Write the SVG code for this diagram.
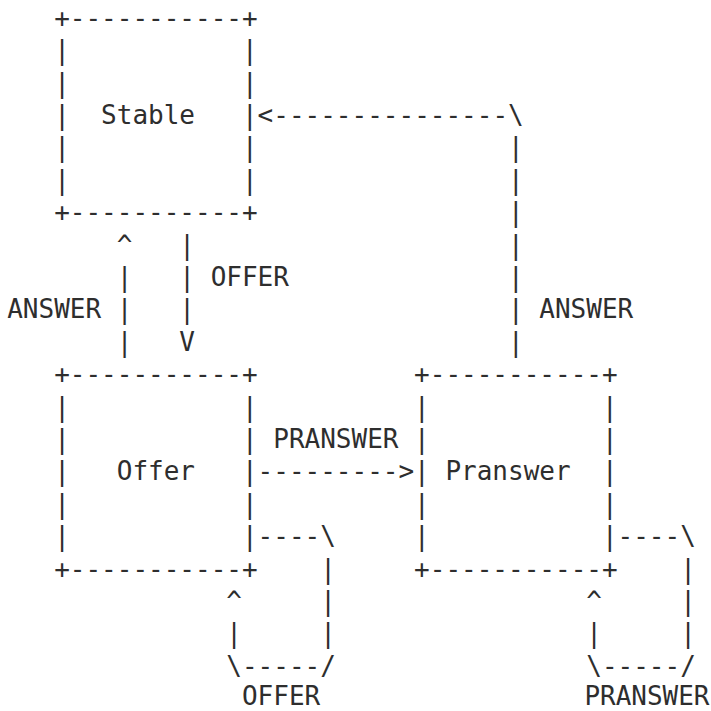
<svg xmlns="http://www.w3.org/2000/svg" width="711" height="711" viewBox="0 0 711 711">
<style>
text{font-family:"DejaVu Sans Mono","Liberation Mono",monospace;font-size:26px;fill:#2e2e2e;white-space:pre}
</style>
<rect width="711" height="711" fill="#fff"/>
<g id="node-stable">
<text x="54.15" y="26.8">+-----------+</text>
<text x="54.15" y="59.2">|</text><text x="241.95" y="59.2">|</text>
<text x="54.15" y="91.6">|</text><text x="241.95" y="91.6">|</text>
<text x="54.15" y="124">|</text><text x="241.95" y="124">|</text>
<text x="101.1" y="124">Stable</text>
<text x="54.15" y="156.4">|</text><text x="241.95" y="156.4">|</text>
<text x="54.15" y="188.8">|</text><text x="241.95" y="188.8">|</text>
<text x="54.15" y="221.2">+-----------+</text>
</g>
<g id="node-offer">
<text x="54.15" y="383.2">+-----------+</text>
<text x="54.15" y="415.6">|</text><text x="241.95" y="415.6">|</text>
<text x="54.15" y="448">|</text><text x="241.95" y="448">|</text>
<text x="54.15" y="480.4">|</text><text x="241.95" y="480.4">|</text>
<text x="116.75" y="480.4">Offer</text>
<text x="54.15" y="512.8">|</text><text x="241.95" y="512.8">|</text>
<text x="54.15" y="545.2">|</text><text x="241.95" y="545.2">|</text>
<text x="54.15" y="577.6">+-----------+</text>
</g>
<g id="node-pranswer">
<text x="414.1" y="383.2">+-----------+</text>
<text x="414.1" y="415.6">|</text><text x="601.9" y="415.6">|</text>
<text x="414.1" y="448">|</text><text x="601.9" y="448">|</text>
<text x="414.1" y="480.4">|</text><text x="601.9" y="480.4">|</text>
<text x="445.4" y="480.4">Pranswer</text>
<text x="414.1" y="512.8">|</text><text x="601.9" y="512.8">|</text>
<text x="414.1" y="545.2">|</text><text x="601.9" y="545.2">|</text>
<text x="414.1" y="577.6">+-----------+</text>
</g>
<g id="connectors">
<!-- Pranswer -> Stable (ANSWER) -->
<text x="257.6" y="124">&lt;---------------\</text>
<text x="508" y="156.4">|</text>
<text x="508" y="188.8">|</text>
<text x="508" y="221.2">|</text>
<text x="508" y="253.6">|</text>
<text x="508" y="286">|</text>
<text x="508" y="318.4">|</text>
<text x="508" y="350.8">|</text>
<text x="539.3" y="318.4">ANSWER</text>
<!-- Offer -> Stable (ANSWER) -->
<text x="116.75" y="253.6">^</text>
<text x="116.75" y="286">|</text>
<text x="116.75" y="318.4">|</text>
<text x="116.75" y="350.8">|</text>
<text x="7.2" y="318.4">ANSWER</text>
<!-- Stable -> Offer (OFFER) -->
<text x="179.35" y="253.6">|</text>
<text x="179.35" y="286">|</text>
<text x="179.35" y="318.4">|</text>
<text x="179.35" y="350.8">V</text>
<text x="210.65" y="286">OFFER</text>
<!-- Offer -> Pranswer (PRANSWER) -->
<text x="273.25" y="448">PRANSWER</text>
<text x="257.6" y="480.4">---------&gt;</text>
<!-- Offer self loop (OFFER) -->
<text x="257.6" y="545.2">----\</text>
<text x="320.2" y="577.6">|</text>
<text x="226.3" y="610">^</text><text x="320.2" y="610">|</text>
<text x="226.3" y="642.4">|</text><text x="320.2" y="642.4">|</text>
<text x="226.3" y="674.8">\-----/</text>
<text x="241.95" y="704.5">OFFER</text>
<!-- Pranswer self loop (PRANSWER) -->
<text x="617.55" y="545.2">----\</text>
<text x="680.15" y="577.6">|</text>
<text x="586.25" y="610">^</text><text x="680.15" y="610">|</text>
<text x="586.25" y="642.4">|</text><text x="680.15" y="642.4">|</text>
<text x="586.25" y="674.8">\-----/</text>
<text x="584.5" y="704.5" textLength="125" lengthAdjust="spacingAndGlyphs">PRANSWER</text>
</g>
</svg>
